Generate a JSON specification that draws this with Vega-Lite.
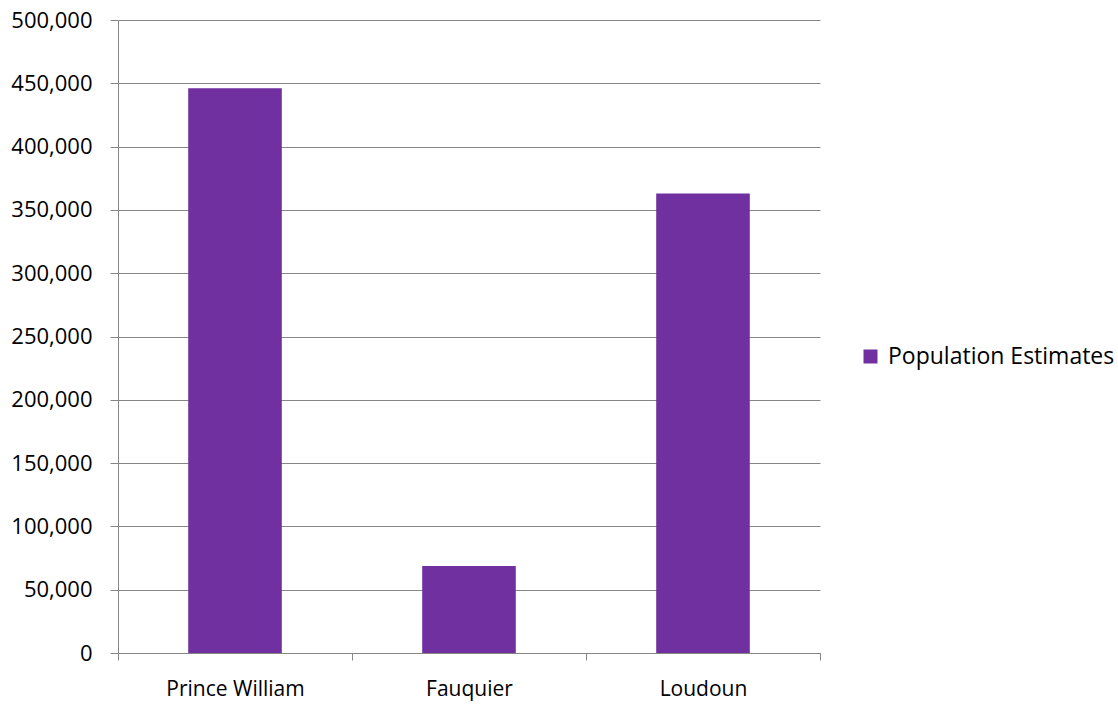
{
  "$schema": "https://vega.github.io/schema/vega-lite/v6.json",
  "width": 702,
  "height": 633,
  "autosize": "none",
  "padding": {"left": 118, "top": 20, "right": 298, "bottom": 55},
  "background": "white",
  "data": {
    "values": [
      {"county": "Prince William", "population": 446000, "series": "Population Estimates"},
      {"county": "Fauquier", "population": 68700, "series": "Population Estimates"},
      {"county": "Loudoun", "population": 363000, "series": "Population Estimates"}
    ]
  },
  "mark": {"type": "bar", "width": {"band": 0.4}},
  "encoding": {
    "x": {
      "field": "county",
      "type": "nominal",
      "sort": null,
      "scale": {"paddingInner": 0, "paddingOuter": 0},
      "axis": {
        "title": null,
        "labelAngle": 0,
        "labelFont": "Open Sans",
        "labelFontSize": 21,
        "labelColor": "#000000",
        "labelPadding": 18,
        "tickBand": "extent",
        "tickSize": 7,
        "tickColor": "#868686",
        "domainColor": "#868686",
        "grid": false
      }
    },
    "y": {
      "field": "population",
      "type": "quantitative",
      "scale": {"domain": [0, 500000], "nice": false},
      "axis": {
        "title": null,
        "values": [0, 50000, 100000, 150000, 200000, 250000, 300000, 350000, 400000, 450000, 500000],
        "format": ",d",
        "labelFont": "Open Sans",
        "labelFontSize": 22,
        "labelColor": "#000000",
        "labelPadding": 18,
        "tickSize": 8,
        "tickColor": "#868686",
        "domainColor": "#868686",
        "gridColor": "#868686",
        "grid": true
      }
    },
    "color": {
      "field": "series",
      "type": "nominal",
      "scale": {"range": ["#7030A0"]},
      "legend": {
        "title": null,
        "orient": "none",
        "legendX": 741,
        "legendY": 325,
        "symbolType": "square",
        "symbolSize": 196,
        "symbolOpacity": 1,
        "labelFont": "Open Sans",
        "labelFontSize": 23,
        "labelOffset": 6,
        "labelLimit": 400,
        "labelColor": "#000000"
      }
    }
  },
  "config": {"view": {"stroke": null}}
}
